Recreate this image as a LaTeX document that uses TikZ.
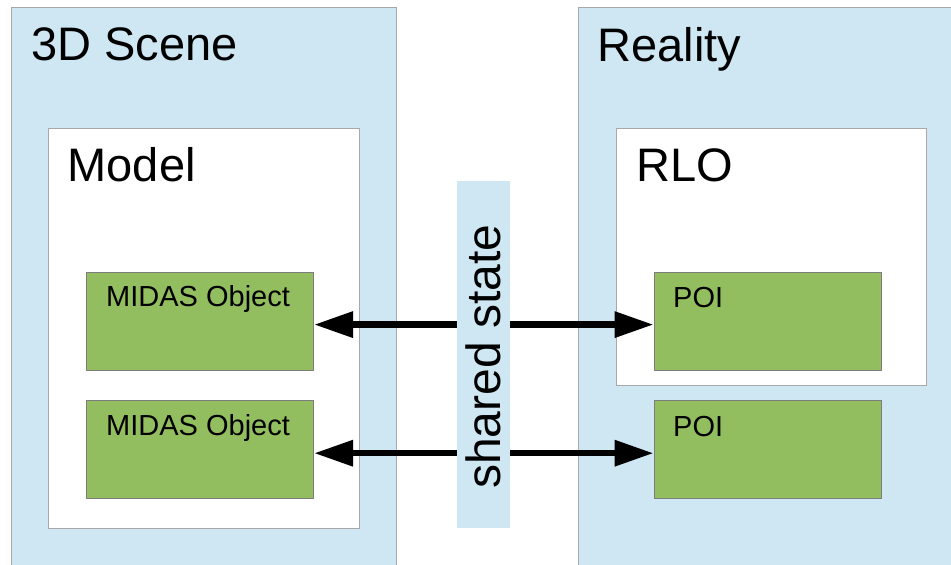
\documentclass[tikz,border=0pt]{standalone}
\usepackage{fontspec}
\setmainfont{Liberation Sans}
\usetikzlibrary{arrows.meta}
\definecolor{panelblue}{RGB}{207,230,243}
\definecolor{boxgreen}{RGB}{147,190,95}
\definecolor{edgegray}{RGB}{168,168,168}
\definecolor{greenedge}{RGB}{125,125,125}
\tikzset{
  panel/.style={draw=edgegray, fill=panelblue, line width=1pt, anchor=north west, inner sep=0pt},
  whitebox/.style={draw=edgegray, fill=white, line width=1pt, anchor=north west, inner sep=0pt},
  objbox/.style={draw=greenedge, fill=boxgreen, line width=0.8pt, anchor=north west, inner sep=0pt,
    minimum width=227pt, minimum height=98pt},
  bigtext/.style={font=\fontsize{47}{47}\selectfont, anchor=base west, inner sep=0pt},
  smalltext/.style={font=\fontsize{29}{29}\selectfont, anchor=base west, inner sep=0pt},
  link/.style={line width=6.5pt, {Triangle[length=39pt,width=25pt]}-{Triangle[length=39pt,width=25pt]}}
}
\begin{document}
\begin{tikzpicture}[x=1pt,y=-1pt]
\useasboundingbox (0,0) rectangle (951,565);
\clip (0,0) rectangle (951,565);
% panels
\node[panel, minimum width=385.5pt, minimum height=580pt] (scene) at (10.5,7) {};
\node[panel, minimum width=400pt, minimum height=580pt] (reality) at (577.7,7) {};
\node[bigtext] (scenelbl) at (31,60) {3D Scene};
\node[bigtext] (realitylbl) at (597.5,61) {Reality};
% inner boxes
\node[whitebox, minimum width=310.5pt, minimum height=400.5pt] (model) at (48.3,127.7) {};
\node[whitebox, minimum width=310pt, minimum height=257.3pt] (rlo) at (616,127.7) {};
\node[bigtext] (modellbl) at (67.5,181.7) {Model};
\node[bigtext] (rlolbl) at (636,181.7) {RLO};
% objects
\node[objbox] (mo1) at (86.3,271.7) {};
\node[objbox] (mo2) at (86.3,400.3) {};
\node[objbox] (poi1) at (653.5,271.7) {};
\node[objbox] (poi2) at (653.5,400.3) {};
\node[smalltext] (mo1lbl) at (106,306.5) {MIDAS Object};
\node[smalltext] (mo2lbl) at (106,435) {MIDAS Object};
\node[smalltext] (poi1lbl) at (673,307.5) {POI};
\node[smalltext] (poi2lbl) at (673,436) {POI};
% arrows
\draw[link] ([yshift=-3.5pt]mo1.east) -- ([yshift=-3.5pt]poi1.west);
\draw[link] ([yshift=-3.5pt]mo2.east) -- ([yshift=-3.5pt]poi2.west);
% shared state bar
\node[fill=panelblue, anchor=north west, inner sep=0pt, minimum width=52.6pt, minimum height=347pt] (bar) at (456.7,181) {};
\node[rotate=90, inner sep=0pt, font=\fontsize{48}{48}\selectfont] (barlbl) at ([yshift=-2pt]bar.center) {shared state};
\end{tikzpicture}
\end{document}
